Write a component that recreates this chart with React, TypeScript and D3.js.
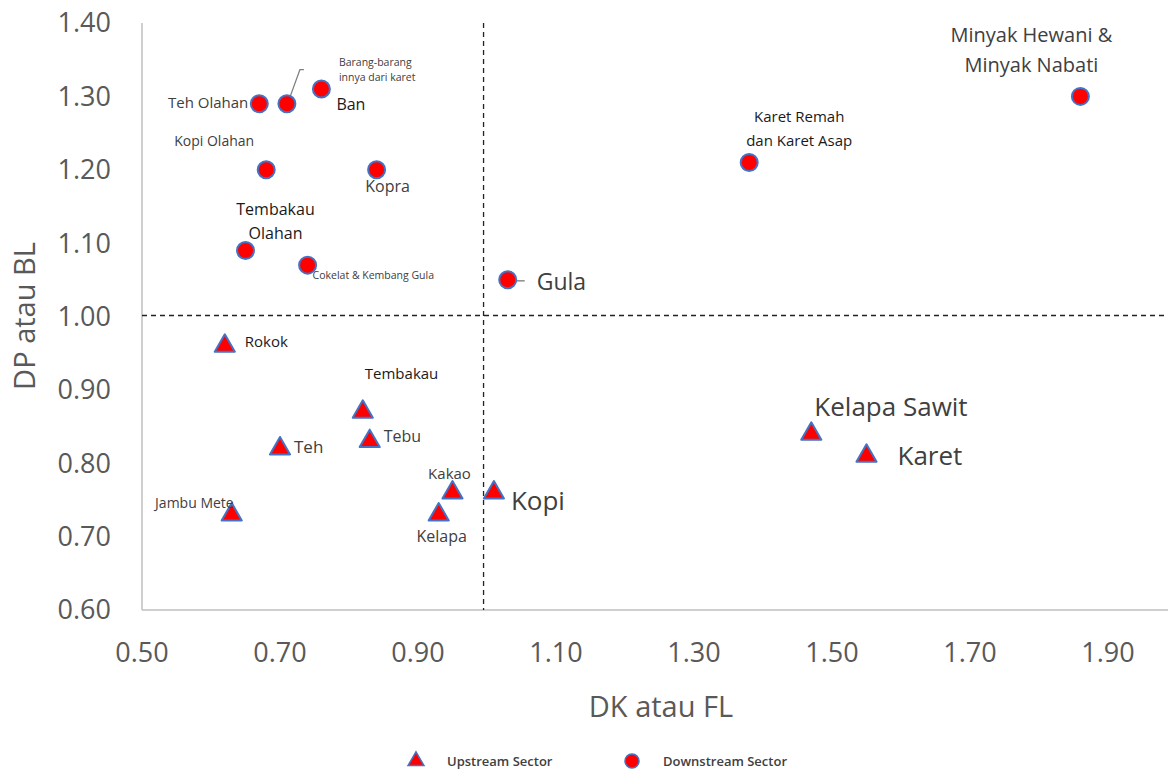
import React from "react";
import * as d3 from "d3";

// Upstream sector (triangles)
const upstreamNames = ["Rokok", "Tembakau", "Tebu", "Teh", "Jambu Mete", "Kakao", "Kelapa", "Kopi", "Kelapa Sawit", "Karet"];
const upstreamDK = [0.62, 0.82, 0.83, 0.70, 0.63, 0.95, 0.93, 1.01, 1.47, 1.55];
const upstreamDP = [0.96, 0.87, 0.83, 0.82, 0.73, 0.76, 0.73, 0.76, 0.84, 0.81];

// Downstream sector (circles)
const downstreamNames = [
  "Teh Olahan", "Barang-barang lainnya dari karet", "Ban", "Kopi Olahan", "Kopra",
  "Tembakau Olahan", "Cokelat & Kembang Gula", "Gula", "Karet Remah dan Karet Asap", "Minyak Hewani & Minyak Nabati",
];
const downstreamDK = [0.67, 0.71, 0.76, 0.68, 0.84, 0.65, 0.74, 1.03, 1.38, 1.86];
const downstreamDP = [1.29, 1.29, 1.31, 1.20, 1.20, 1.09, 1.07, 1.05, 1.21, 1.30];

const xTickValues = [0.5, 0.7, 0.9, 1.1, 1.3, 1.5, 1.7, 1.9];
const yTickValues = [0.6, 0.7, 0.8, 0.9, 1.0, 1.1, 1.2, 1.3, 1.4];
const xTitle = "DK atau FL";
const yTitle = "DP atau BL";
const legendLabels = ["Upstream Sector", "Downstream Sector"];

// label text and placement (pixels relative to the marker)
type Lbl = { lines: string[]; dx: number; dy: number; anchor: string; size: number; color?: string; lh?: number };
const labels: Record<string, Lbl> = {
  "Rokok": { lines: ["Rokok"], dx: 20, dy: 1, anchor: "start", size: 15, color: "#1a1a1a" },
  "Tembakau": { lines: ["Tembakau"], dx: 2, dy: -33, anchor: "start", size: 15, color: "#1a1a1a" },
  "Tebu": { lines: ["Tebu"], dx: 14, dy: 1, anchor: "start", size: 16 },
  "Teh": { lines: ["Teh"], dx: 14, dy: 4, anchor: "start", size: 17 },
  "Jambu Mete": { lines: ["Jambu Mete"], dx: 2, dy: -7, anchor: "end", size: 14 },
  "Kakao": { lines: ["Kakao"], dx: -3, dy: -14, anchor: "middle", size: 15 },
  "Kelapa": { lines: ["Kelapa"], dx: 3, dy: 27, anchor: "middle", size: 16 },
  "Kopi": { lines: ["Kopi"], dx: 17, dy: 17, anchor: "start", size: 26 },
  "Kelapa Sawit": { lines: ["Kelapa Sawit"], dx: 3, dy: -18, anchor: "start", size: 26 },
  "Karet": { lines: ["Karet"], dx: 31, dy: 9, anchor: "start", size: 26 },
  "Teh Olahan": { lines: ["Teh Olahan"], dx: -11, dy: 4, anchor: "end", size: 15 },
  "Barang-barang lainnya dari karet": { lines: ["Barang-barang", "innya dari karet"], dx: 52, dy: -38, anchor: "start", size: 10.5, lh: 15 },
  "Ban": { lines: ["Ban"], dx: 15, dy: 21, anchor: "start", size: 16, color: "#1a1a1a" },
  "Kopi Olahan": { lines: ["Kopi Olahan"], dx: -52, dy: -24, anchor: "middle", size: 14 },
  "Kopra": { lines: ["Kopra"], dx: 11, dy: 22, anchor: "middle", size: 16 },
  "Tembakau Olahan": { lines: ["Tembakau", "Olahan"], dx: 30, dy: -35, anchor: "middle", size: 16, color: "#1a1a1a", lh: 24 },
  "Cokelat & Kembang Gula": { lines: ["Cokelat & Kembang Gula"], dx: 5, dy: 14, anchor: "start", size: 10.5 },
  "Gula": { lines: ["Gula"], dx: 29, dy: 10, anchor: "start", size: 23 },
  "Karet Remah dan Karet Asap": { lines: ["Karet Remah", "dan Karet Asap"], dx: 50, dy: -40, anchor: "middle", size: 15, color: "#1a1a1a", lh: 24 },
  "Minyak Hewani & Minyak Nabati": { lines: ["Minyak Hewani &", "Minyak Nabati"], dx: -49, dy: -54, anchor: "middle", size: 20, lh: 30 },
};

const W = 1168, H = 771;
const FONT = "'Open Sans', 'Noto Sans', sans-serif";
const RED = "#ff0000", BLUE = "#4472c4", AXIS = "#bfbfbf", TXT = "#595959";

export default function App() {
  const x = d3.scaleLinear().domain([0.5, 2.0]).range([142, 142 + 1.5 * 690]);
  const y = d3.scaleLinear().domain([0.6, 1.4]).range([610, 23]);
  const fmt = d3.format(".2f");
  const tri = d3.symbol(d3.symbolTriangle, 175)();
  const triSmall = d3.symbol(d3.symbolTriangle, 110)();

  const up = upstreamNames.map((n, i) => ({ name: n, cx: x(upstreamDK[i]), cy: y(upstreamDP[i]) }));
  const down = downstreamNames.map((n, i) => ({ name: n, cx: x(downstreamDK[i]), cy: y(downstreamDP[i]) }));

  const renderLabel = (p: { name: string; cx: number; cy: number }) => {
    const l = labels[p.name];
    if (!l) return null;
    const tx = p.cx + l.dx;
    return (
      <text key={"l" + p.name} x={tx} y={p.cy + l.dy} textAnchor={l.anchor as any}
        fontSize={l.size} fill={l.color || "#404040"} fontFamily={FONT}>
        {l.lines.map((s, k) => (
          <tspan key={k} x={tx} dy={k === 0 ? 0 : l.lh || l.size * 1.4}>{s}</tspan>
        ))}
      </text>
    );
  };

  const barang = down[1];
  const gula = down[7];
  const leader = d3.line();

  return (
    <div style={{ position: "absolute", left: 0, top: 0 }}>
      <svg width={W} height={H} style={{ display: "block", background: "#fff" }}>
        {/* axes */}
        <line x1={x(0.5)} x2={x(0.5)} y1={y(1.4)} y2={y(0.6)} stroke={AXIS} strokeWidth={1.5} />
        <line x1={x(0.5)} x2={W} y1={y(0.6)} y2={y(0.6)} stroke={AXIS} strokeWidth={1.5} />

        {/* quadrant dashed lines */}
        <line x1={x(0.995)} x2={x(0.995)} y1={y(1.4)} y2={y(0.6)} stroke="#222" strokeWidth={1.3} strokeDasharray="5,4" />
        <line x1={x(0.5)} x2={W} y1={y(1.0) - 1} y2={y(1.0) - 1} stroke="#222" strokeWidth={1.3} strokeDasharray="5,4" />

        {yTickValues.map((v) => (
          <text key={"y" + v} x={111} y={y(v)} dy="0.35em" textAnchor="end" fontSize={27} fill={TXT} fontFamily={FONT}>
            {fmt(v)}
          </text>
        ))}
        {xTickValues.map((v) => (
          <text key={"x" + v} x={x(v)} y={662} textAnchor="middle" fontSize={27} fill={TXT} fontFamily={FONT}>
            {fmt(v)}
          </text>
        ))}

        <text x={661} y={717} textAnchor="middle" fontSize={29} fill={TXT} fontFamily={FONT}>{xTitle}</text>
        <text transform="translate(35,316) rotate(-90)" textAnchor="middle" fontSize={29} fill={TXT} fontFamily={FONT}>{yTitle}</text>

        {/* leader lines */}
        <path d={leader([[barang.cx + 1, barang.cy - 1], [barang.cx + 13, barang.cy - 34], [barang.cx + 17, barang.cy - 34]]) || ""}
          fill="none" stroke="#7f7f7f" strokeWidth={1.2} />
        <path d={leader([[gula.cx + 4, gula.cy + 1], [gula.cx + 17, gula.cy + 1]]) || ""} fill="none" stroke="#8c8c8c" strokeWidth={1.5} />

        {/* markers */}
        {down.map((p) => (
          <circle key={"c" + p.name} cx={p.cx} cy={p.cy} r={8.5} fill={RED} stroke={BLUE} strokeWidth={2} />
        ))}
        {up.map((p) => (
          <path key={"t" + p.name} d={tri || ""} transform={`translate(${p.cx},${p.cy})`} fill={RED} stroke={BLUE} strokeWidth={2} strokeLinejoin="round" />
        ))}

        {up.map(renderLabel)}
        {down.map(renderLabel)}

        {/* legend */}
        <path d={triSmall || ""} transform="translate(416,761)" fill={RED} stroke={BLUE} strokeWidth={1.5} />
        <text x={447} y={766} fontSize={13} fontWeight={600} fill="#404040" fontFamily={FONT}>{legendLabels[0]}</text>
        <circle cx={632} cy={761} r={7} fill={RED} stroke={BLUE} strokeWidth={1.5} />
        <text x={663} y={766} fontSize={13} fontWeight={600} fill="#404040" fontFamily={FONT}>{legendLabels[1]}</text>
      </svg>
    </div>
  );
}
